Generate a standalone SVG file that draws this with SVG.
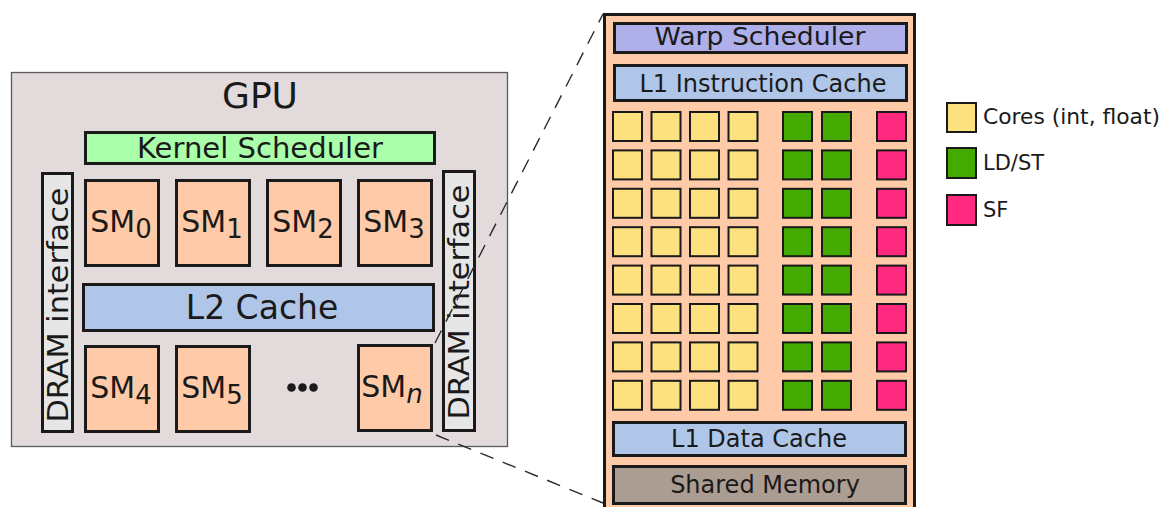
<svg xmlns="http://www.w3.org/2000/svg" width="1168" height="507" viewBox="0 0 1168 507">
  <defs>
    <style>
      text { font-family: "DejaVu Sans", Verdana, sans-serif; fill: #1a1a1a; }
      .blk { stroke: #1a1a1a; stroke-width: 3; }
      .sm { fill: #ffcaa8; stroke: #1a1a1a; stroke-width: 3; }
      .smt { font-size: 30px; }
      .sub { font-size: 26px; }
      .dram { fill: #e6e6e6; stroke: #1a1a1a; stroke-width: 3; }
      .dramt { font-size: 29px; }
      .core { fill: #fee17f; stroke: #1a1a1a; stroke-width: 2; }
      .ldst { fill: #44aa00; stroke: #1a1a1a; stroke-width: 2; }
      .sf { fill: #ff2a7f; stroke: #1a1a1a; stroke-width: 2; }
      .lbl { font-size: 24px; }
      .leg { font-size: 21px; }
      .dash { fill: none; stroke: #2a2a2a; stroke-width: 1.4; stroke-dasharray: 14 10; }
    </style>
    <rect id="core" class="core" width="29" height="29"/>
    <rect id="ldst" class="ldst" width="29" height="29"/>
    <rect id="sfu" class="sf" width="29" height="29"/>
  </defs>

  <!-- GPU chip -->
  <g id="gpu">
    <rect x="11.5" y="72.5" width="496" height="374" fill="#e2dadb" stroke="#5a5a5a" stroke-width="1.3"/>
    <text x="260" y="108" font-size="36" text-anchor="middle">GPU</text>
  </g>

  <g id="kernel-scheduler">
    <rect x="85.5" y="132.5" width="349" height="31" fill="#aaffaa" class="blk"/>
    <text x="260" y="158" font-size="27.5" text-anchor="middle" textLength="246" lengthAdjust="spacingAndGlyphs">Kernel Scheduler</text>
  </g>

  <g id="dram-left">
    <rect class="dram" x="42.5" y="173.5" width="30" height="258"/>
    <text class="dramt" transform="translate(68,305) rotate(-90)" text-anchor="middle" textLength="235" lengthAdjust="spacingAndGlyphs">DRAM interface</text>
  </g>
  <g id="dram-right">
    <rect class="dram" x="443.5" y="171.5" width="31" height="259"/>
    <text class="dramt" transform="translate(469,302) rotate(-90)" text-anchor="middle" textLength="235" lengthAdjust="spacingAndGlyphs">DRAM interface</text>
  </g>

  <g id="sm0">
    <rect class="sm" x="85.5" y="180.5" width="73" height="85"/>
    <text class="smt" x="121" y="232" text-anchor="middle">SM<tspan class="sub" dy="6">0</tspan></text>
  </g>
  <g id="sm1">
    <rect class="sm" x="176.5" y="180.5" width="73" height="85"/>
    <text class="smt" x="212" y="232" text-anchor="middle">SM<tspan class="sub" dy="6">1</tspan></text>
  </g>
  <g id="sm2">
    <rect class="sm" x="267.5" y="180.5" width="73" height="85"/>
    <text class="smt" x="303" y="232" text-anchor="middle">SM<tspan class="sub" dy="6">2</tspan></text>
  </g>
  <g id="sm3">
    <rect class="sm" x="358.5" y="180.5" width="73" height="85"/>
    <text class="smt" x="394" y="232" text-anchor="middle">SM<tspan class="sub" dy="6">3</tspan></text>
  </g>

  <g id="l2-cache">
    <rect x="83.5" y="284.5" width="350" height="46" fill="#afc6e9" class="blk"/>
    <text x="262" y="319" font-size="33" text-anchor="middle">L2 Cache</text>
  </g>

  <g id="sm4">
    <rect class="sm" x="85.5" y="346.5" width="73" height="85"/>
    <text class="smt" x="121" y="398" text-anchor="middle">SM<tspan class="sub" dy="6">4</tspan></text>
  </g>
  <g id="sm5">
    <rect class="sm" x="176.5" y="346.5" width="73" height="85"/>
    <text class="smt" x="212" y="398" text-anchor="middle">SM<tspan class="sub" dy="6">5</tspan></text>
  </g>
  <g id="ellipsis" fill="#1a1a1a">
    <circle cx="291.5" cy="387.5" r="4.3"/>
    <circle cx="302.5" cy="387.5" r="4.3"/>
    <circle cx="313.5" cy="387.5" r="4.3"/>
  </g>
  <g id="smn">
    <rect class="sm" x="358.5" y="345.5" width="73" height="85"/>
    <text class="smt" x="392" y="397" text-anchor="middle">SM<tspan class="sub" dy="6" font-style="italic">n</tspan></text>
  </g>

  <!-- Expanded view of one streaming multiprocessor -->
  <g id="sm-detail">
    <rect x="604.5" y="14.5" width="310" height="500" fill="#ffcaa8" class="blk"/>
  </g>

  <g id="warp-scheduler">
    <rect x="614.5" y="23.5" width="292" height="29" fill="#afafe9" class="blk"/>
    <text class="lbl" x="760" y="45" font-size="25" text-anchor="middle" textLength="211" lengthAdjust="spacingAndGlyphs">Warp Scheduler</text>
  </g>
  <g id="l1-instruction-cache">
    <rect x="614.5" y="65.5" width="292" height="35" fill="#afc6e9" class="blk"/>
    <text class="lbl" x="763" y="92" text-anchor="middle">L1 Instruction Cache</text>
  </g>

  <g id="cores">
    <use href="#core" x="613" y="112"/><use href="#core" x="651.5" y="112"/><use href="#core" x="690" y="112"/><use href="#core" x="728.5" y="112"/>
    <use href="#core" x="613" y="150.4"/><use href="#core" x="651.5" y="150.4"/><use href="#core" x="690" y="150.4"/><use href="#core" x="728.5" y="150.4"/>
    <use href="#core" x="613" y="188.8"/><use href="#core" x="651.5" y="188.8"/><use href="#core" x="690" y="188.8"/><use href="#core" x="728.5" y="188.8"/>
    <use href="#core" x="613" y="227.2"/><use href="#core" x="651.5" y="227.2"/><use href="#core" x="690" y="227.2"/><use href="#core" x="728.5" y="227.2"/>
    <use href="#core" x="613" y="265.6"/><use href="#core" x="651.5" y="265.6"/><use href="#core" x="690" y="265.6"/><use href="#core" x="728.5" y="265.6"/>
    <use href="#core" x="613" y="304"/><use href="#core" x="651.5" y="304"/><use href="#core" x="690" y="304"/><use href="#core" x="728.5" y="304"/>
    <use href="#core" x="613" y="342.4"/><use href="#core" x="651.5" y="342.4"/><use href="#core" x="690" y="342.4"/><use href="#core" x="728.5" y="342.4"/>
    <use href="#core" x="613" y="380.8"/><use href="#core" x="651.5" y="380.8"/><use href="#core" x="690" y="380.8"/><use href="#core" x="728.5" y="380.8"/>
  </g>
  <g id="ld-st-units">
    <use href="#ldst" x="783" y="112"/><use href="#ldst" x="822" y="112"/>
    <use href="#ldst" x="783" y="150.4"/><use href="#ldst" x="822" y="150.4"/>
    <use href="#ldst" x="783" y="188.8"/><use href="#ldst" x="822" y="188.8"/>
    <use href="#ldst" x="783" y="227.2"/><use href="#ldst" x="822" y="227.2"/>
    <use href="#ldst" x="783" y="265.6"/><use href="#ldst" x="822" y="265.6"/>
    <use href="#ldst" x="783" y="304"/><use href="#ldst" x="822" y="304"/>
    <use href="#ldst" x="783" y="342.4"/><use href="#ldst" x="822" y="342.4"/>
    <use href="#ldst" x="783" y="380.8"/><use href="#ldst" x="822" y="380.8"/>
  </g>
  <g id="sf-units">
    <use href="#sfu" x="877" y="112"/>
    <use href="#sfu" x="877" y="150.4"/>
    <use href="#sfu" x="877" y="188.8"/>
    <use href="#sfu" x="877" y="227.2"/>
    <use href="#sfu" x="877" y="265.6"/>
    <use href="#sfu" x="877" y="304"/>
    <use href="#sfu" x="877" y="342.4"/>
    <use href="#sfu" x="877" y="380.8"/>
  </g>

  <g id="l1-data-cache">
    <rect x="613.5" y="422.5" width="292" height="33" fill="#afc6e9" class="blk"/>
    <text class="lbl" x="759" y="447" text-anchor="middle">L1 Data Cache</text>
  </g>
  <g id="shared-memory">
    <rect x="613.5" y="466.5" width="292" height="37" fill="#ac9d93" class="blk"/>
    <text class="lbl" x="765" y="493" text-anchor="middle">Shared Memory</text>
  </g>

  <!-- Legend -->
  <g id="legend-cores">
    <rect class="core" x="947" y="103" width="29" height="29"/>
    <text class="leg" x="983" y="124" textLength="177" lengthAdjust="spacingAndGlyphs">Cores (int, float)</text>
  </g>
  <g id="legend-ldst">
    <rect class="ldst" x="947" y="148" width="29" height="30"/>
    <text class="leg" x="983" y="170">LD/ST</text>
  </g>
  <g id="legend-sf">
    <rect class="sf" x="947" y="195" width="29" height="30"/>
    <text class="leg" x="983" y="217">SF</text>
  </g>

  <!-- Zoom lines from SM n to the expanded view -->
  <g id="connectors">
    <line class="dash" x1="435" y1="343" x2="603" y2="14"/>
    <line class="dash" x1="436" y1="435" x2="603" y2="503"/>
  </g>
</svg>
